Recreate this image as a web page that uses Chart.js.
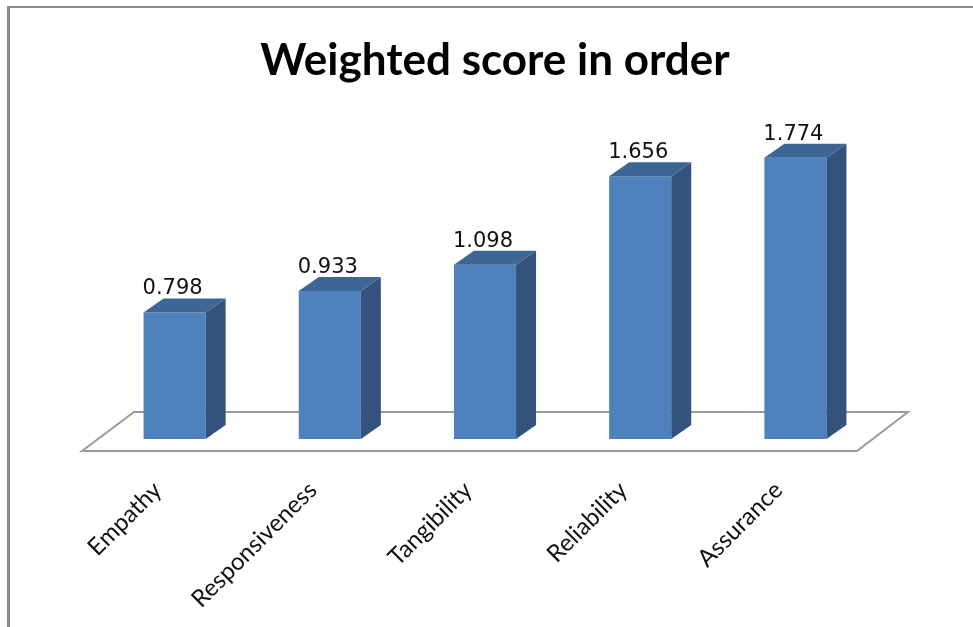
<!DOCTYPE html>
<html>
<head>
<meta charset="utf-8">
<script src="https://cdn.jsdelivr.net/npm/chart.js@4.4.1/dist/chart.umd.min.js"></script>
<style>
  body { margin: 0; background: #fff; }
  #wrap { width: 973px; height: 627px; }
</style>
</head>
<body>
<div id="wrap"><canvas id="myChart" width="973" height="627"></canvas></div>
<script>
const categories = ['Empathy', 'Responsiveness', 'Tangibility', 'Reliability', 'Assurance'];
const scores = [0.798, 0.933, 1.098, 1.656, 1.774];
const chartTitle = 'Weighted score in order';

// depth of the fake 3d bars and of the floor
const barDepth = { dx: 20, dy: -14 };

const frame = {
  id: 'frame',
  beforeDraw(chart) {
    const c = chart.ctx;
    c.save();
    c.fillStyle = '#fff';
    c.fillRect(0, 0, chart.width, chart.height);
    c.fillStyle = '#8a8a8a';
    c.fillRect(7, 6, chart.width, 2);
    c.fillRect(7, 6, 3, chart.height);
    c.restore();
  }
};

const floor3d = {
  id: 'floor3d',
  beforeDatasetsDraw(chart) {
    const a = chart.chartArea, c = chart.ctx;
    const fy = a.bottom + 12, fx1 = a.left - 15, fx2 = a.right - 16;
    c.save();
    c.beginPath();
    c.moveTo(fx1, fy);
    c.lineTo(fx1 + 52, fy - 39);
    c.lineTo(fx2 + 51, fy - 39);
    c.lineTo(fx2, fy);
    c.closePath();
    c.fillStyle = '#fff';
    c.fill();
    c.strokeStyle = '#9a9a9a';
    c.lineWidth = 2;
    c.stroke();
    c.restore();
  },
  afterDatasetsDraw(chart) {
    const c = chart.ctx;
    const meta = chart.getDatasetMeta(0);
    c.save();
    meta.data.forEach((bar, i) => {
      const l = bar.x - bar.width / 2, r = bar.x + bar.width / 2;
      const t = bar.y, b = bar.base;
      // side
      c.beginPath();
      c.moveTo(r, t);
      c.lineTo(r + barDepth.dx, t + barDepth.dy);
      c.lineTo(r + barDepth.dx, b + barDepth.dy);
      c.lineTo(r, b);
      c.closePath();
      c.fillStyle = '#33537d';
      c.fill();
      // top
      c.beginPath();
      c.moveTo(l, t);
      c.lineTo(l + barDepth.dx, t + barDepth.dy);
      c.lineTo(r + barDepth.dx, t + barDepth.dy);
      c.lineTo(r, t);
      c.closePath();
      c.fillStyle = '#3d6694';
      c.fill();
      // value
      c.fillStyle = '#111';
      c.font = '21px "DejaVu Sans"';
      c.textAlign = 'center';
      c.textBaseline = 'alphabetic';
      c.fillText(scores[i].toFixed(3), bar.x - 2, t - 18);
    });
    c.restore();
  }
};

new Chart(document.getElementById('myChart'), {
  type: 'bar',
  data: {
    labels: categories,
    datasets: [{
      data: scores,
      backgroundColor: '#4f81bd',
      borderWidth: 0,
      categoryPercentage: 1,
      barPercentage: 0.4
    }]
  },
  options: {
    responsive: false,
    animation: false,
    layout: { padding: { left: 97, right: 80, top: 0, bottom: 0 } },
    plugins: {
      legend: { display: false },
      tooltip: { enabled: false },
      title: {
        display: true,
        text: chartTitle,
        color: '#000',
        font: { family: 'Lato', size: 44, weight: 'bold' },
        padding: { top: 34, bottom: 35 }
      }
    },
    scales: {
      y: {
        position: 'right',
        min: 0,
        max: 2,
        grid: { display: false },
        border: { display: false },
        ticks: { display: false },
        afterFit: (scale) => { scale.width = 20; }
      },
      x: {
        grid: { display: false },
        border: { display: false },
        afterFit: (scale) => { scale.height = 188; },
        ticks: {
          color: '#111',
          font: { family: 'Lato', size: 24 },
          minRotation: 45,
          maxRotation: 45,
          padding: 29,
          labelOffset: -17
        }
      }
    }
  },
  plugins: [frame, floor3d]
});
</script>
</body>
</html>
